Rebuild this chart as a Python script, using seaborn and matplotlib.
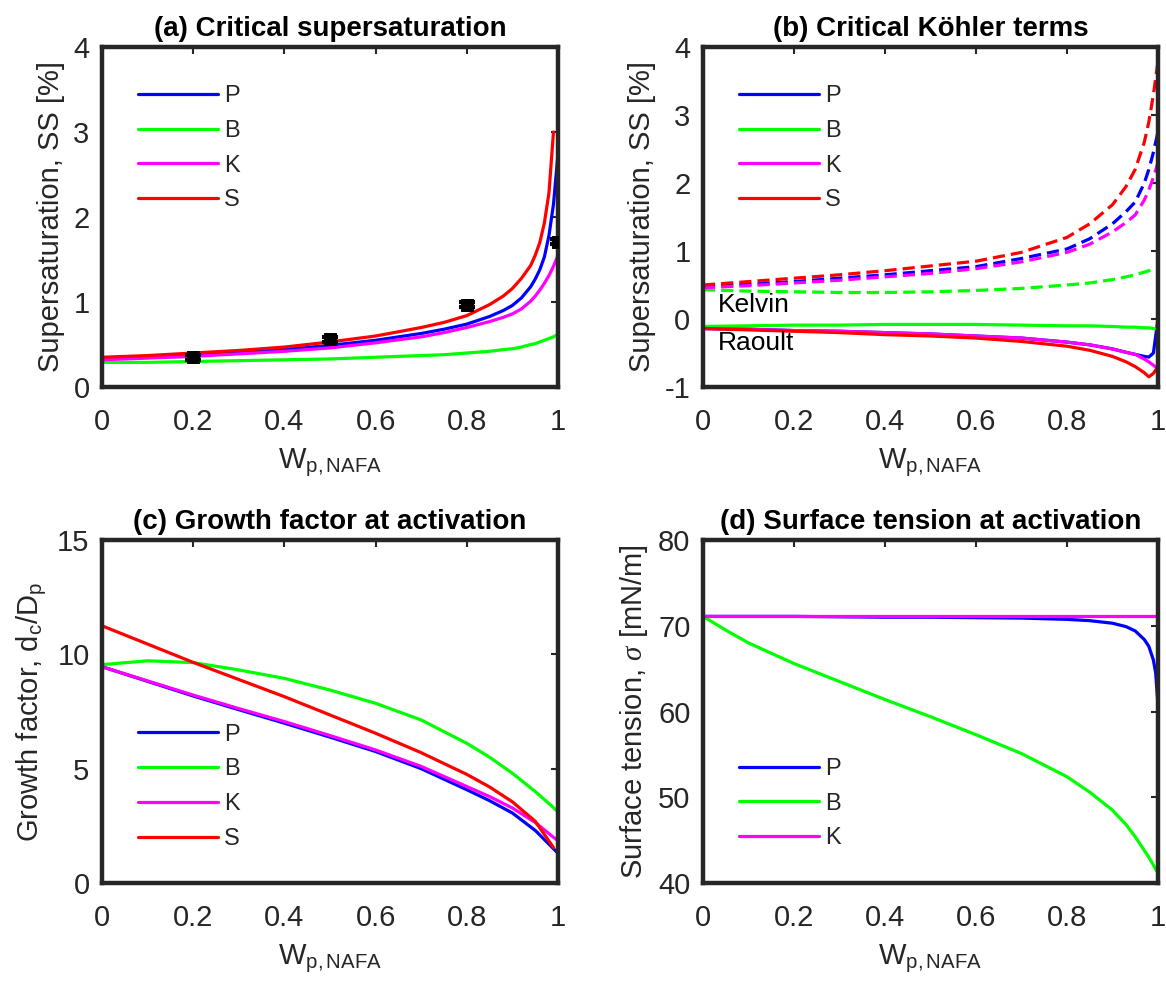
import matplotlib
matplotlib.use("Agg")
import matplotlib.pyplot as plt
import seaborn as sns
import pandas as pd

# ---- data ----
x_ticks = [0, 0.2, 0.4, 0.6, 0.8, 1.0]
x_ticklabels = ["0", "0.2", "0.4", "0.6", "0.8", "1"]

# (a) critical supersaturation [%]
a_x = [0, 0.1, 0.2, 0.3, 0.4, 0.5, 0.6, 0.7, 0.75, 0.8, 0.85, 0.88, 0.9, 0.92, 0.94, 0.95, 0.96, 0.97, 0.98, 0.99, 1.0]
a_P = [0.34, 0.36, 0.38, 0.41, 0.44, 0.49, 0.55, 0.63, 0.68, 0.74, 0.83, 0.90, 0.96, 1.05, 1.18, 1.27, 1.38, 1.53, 1.78, 2.15, 2.75]
a_B = [0.29, 0.29, 0.30, 0.31, 0.32, 0.33, 0.35, 0.37, 0.38, 0.40, 0.42, 0.44, 0.45, 0.47, 0.50, 0.51, 0.53, 0.55, 0.57, 0.59, 0.62]
a_K = [0.32, 0.34, 0.36, 0.39, 0.42, 0.46, 0.52, 0.59, 0.64, 0.70, 0.77, 0.82, 0.86, 0.92, 1.01, 1.07, 1.14, 1.22, 1.31, 1.42, 1.55]
a_S = [0.35, 0.37, 0.40, 0.43, 0.47, 0.53, 0.60, 0.70, 0.76, 0.84, 0.97, 1.07, 1.16, 1.28, 1.43, 1.55, 1.70, 1.93, 2.28, 3.00]
obs_x = [0.2, 0.5, 0.8, 1.0]
obs_y = [0.35, 0.56, 0.97, 1.71]
obs_err = [0.03, 0.03, 0.03, 0.03]

# (b) Kelvin (dashed) and Raoult (solid) terms [%]
b_x = [0, 0.1, 0.2, 0.3, 0.4, 0.5, 0.6, 0.7, 0.8, 0.85, 0.9, 0.93, 0.95, 0.97, 0.98, 0.99, 1.0]
b_kel_P = [0.48, 0.51, 0.55, 0.60, 0.65, 0.71, 0.77, 0.89, 1.03, 1.18, 1.40, 1.58, 1.72, 2.00, 2.20, 2.45, 2.75]
b_kel_B = [0.43, 0.41, 0.40, 0.39, 0.39, 0.40, 0.42, 0.45, 0.50, 0.53, 0.58, 0.62, 0.65, 0.69, 0.71, 0.73, 0.75]
b_kel_K = [0.46, 0.49, 0.53, 0.57, 0.62, 0.67, 0.74, 0.84, 0.98, 1.10, 1.28, 1.42, 1.53, 1.75, 1.90, 2.08, 2.30]
b_kel_S = [0.50, 0.55, 0.60, 0.65, 0.71, 0.78, 0.85, 0.98, 1.20, 1.40, 1.68, 1.95, 2.20, 2.60, 2.90, 3.30, 3.78]
b_rao_P = [-0.14, -0.15, -0.17, -0.18, -0.20, -0.22, -0.25, -0.28, -0.34, -0.38, -0.44, -0.49, -0.52, -0.55, -0.56, -0.50, 0.0]
b_rao_B = [-0.11, -0.10, -0.09, -0.09, -0.08, -0.08, -0.08, -0.09, -0.10, -0.10, -0.11, -0.12, -0.12, -0.13, -0.13, -0.14, -0.15]
b_rao_K = [-0.14, -0.15, -0.17, -0.18, -0.20, -0.22, -0.25, -0.28, -0.34, -0.38, -0.44, -0.49, -0.52, -0.59, -0.63, -0.68, -0.73]
b_rao_S = [-0.14, -0.16, -0.18, -0.20, -0.23, -0.25, -0.28, -0.33, -0.40, -0.46, -0.55, -0.63, -0.70, -0.79, -0.85, -0.80, -0.70]

# (c) growth factor at activation
c_x = [0, 0.1, 0.2, 0.3, 0.4, 0.5, 0.6, 0.7, 0.8, 0.85, 0.9, 0.95, 0.99, 1.0]
c_P = [9.46, 8.82, 8.18, 7.58, 6.99, 6.38, 5.75, 5.00, 4.08, 3.60, 3.06, 2.30, 1.50, 1.30]
c_B = [9.55, 9.72, 9.64, 9.32, 8.95, 8.44, 7.86, 7.13, 6.11, 5.50, 4.80, 4.00, 3.30, 3.10]
c_K = [9.46, 8.84, 8.22, 7.63, 7.06, 6.45, 5.82, 5.10, 4.22, 3.78, 3.28, 2.65, 2.00, 1.85]
c_S = [11.25, 10.45, 9.65, 8.90, 8.15, 7.35, 6.55, 5.70, 4.75, 4.20, 3.55, 2.70, 1.55]

# (d) surface tension at activation [mN/m]
d_x = [0, 0.05, 0.1, 0.2, 0.3, 0.4, 0.5, 0.6, 0.7, 0.8, 0.85, 0.9, 0.93, 0.95, 0.97, 0.98, 0.99, 0.995, 1.0]
d_P = [71.1, 71.1, 71.1, 71.1, 71.05, 71.0, 71.0, 70.95, 70.9, 70.75, 70.6, 70.3, 69.9, 69.4, 68.4, 67.6, 66.0, 64.5, 60.8]
d_B = [71.1, 69.5, 68.0, 65.6, 63.5, 61.4, 59.4, 57.3, 55.1, 52.4, 50.6, 48.5, 46.8, 45.4, 43.8, 43.0, 42.1, 41.6, 41.2]
d_K = [71.1] * len(d_x)

colors = {"P": "#0000ff", "B": "#00ff00", "K": "#ff00ff", "S": "#ff0000"}

sns.set_theme(style="white")
plt.rcParams["font.family"] = ["Liberation Sans", "DejaVu Sans"]
plt.rcParams["mathtext.fontset"] = "custom"
plt.rcParams["mathtext.rm"] = "Liberation Sans"
plt.rcParams["mathtext.it"] = "Liberation Serif:italic"

DARK = "#262626"
LW = 2.3
DASH = (0, (3.8, 1.9))

fig = plt.figure(figsize=(11.66, 9.83), dpi=100)
ax_a = fig.add_axes([0.0875, 0.6063, 0.3911, 0.3459])
ax_b = fig.add_axes([0.6029, 0.6063, 0.3902, 0.3459])
ax_c = fig.add_axes([0.0875, 0.1017, 0.3911, 0.3489])
ax_d = fig.add_axes([0.6029, 0.1017, 0.3902, 0.3489])


def line(ax, x, y, key, label=None, ls="-"):
    df = pd.DataFrame({"x": x[:len(y)], "y": y})
    sns.lineplot(data=df, x="x", y="y", ax=ax, color=colors[key], lw=LW,
                 linestyle=ls, label=label if label else "_nolegend_")


def style(ax, title, ylabel, ylim, yticks, leg_y):
    ax.set_xlim(0, 1)
    ax.set_ylim(*ylim)
    ax.set_xticks(x_ticks)
    ax.set_xticklabels(x_ticklabels)
    ax.set_yticks(yticks)
    ax.set_yticklabels([str(t) for t in yticks])
    ax.set_xlabel(r"W$_{\mathrm{p,NAFA}}$", fontsize=21, color=DARK, labelpad=7)
    ax.set_ylabel(ylabel, fontsize=21, color=DARK, labelpad=6)
    ax.set_title(title, fontsize=20, fontweight="bold", color="black", pad=8)
    ax.tick_params(direction="in", length=5, width=1.5, colors=DARK,
                   labelsize=21, top=True, right=True)
    ax.tick_params(axis="x", pad=15)
    ax.tick_params(axis="y", pad=9)
    for sp in ax.spines.values():
        sp.set_linewidth(3.2)
        sp.set_color(DARK)
        sp.set_visible(True)
    ax.legend(loc="upper left", bbox_to_anchor=(0.079, leg_y), frameon=False,
              fontsize=17, handlelength=3.4, handletextpad=0.25,
              labelspacing=0.54, borderaxespad=0, borderpad=0)


# (a)
line(ax_a, a_x, a_P, "P", "P")
line(ax_a, a_x, a_B, "B", "B")
line(ax_a, a_x, a_K, "K", "K")
line(ax_a, a_x, a_S, "S", "S")
ax_a.errorbar(obs_x, obs_y, yerr=obs_err, fmt="none", ecolor="black",
              elinewidth=3, capsize=5.8, capthick=3, zorder=5)
sns.scatterplot(x=obs_x, y=obs_y, ax=ax_a, marker="s", s=75, color="black",
                edgecolor="black", zorder=6, legend=False)
style(ax_a, "(a) Critical supersaturation", "Supersaturation, SS [%]",
      (0, 4), [0, 1, 2, 3, 4], 0.888)

# (b)
line(ax_b, b_x, b_kel_P, "P", ls=DASH)
line(ax_b, b_x, b_kel_B, "B", ls=DASH)
line(ax_b, b_x, b_kel_K, "K", ls=DASH)
line(ax_b, b_x, b_kel_S, "S", ls=DASH)
line(ax_b, b_x, b_rao_P, "P", "P")
line(ax_b, b_x, b_rao_B, "B", "B")
line(ax_b, b_x, b_rao_K, "K", "K")
line(ax_b, b_x, b_rao_S, "S", "S")
ax_b.text(0.033, 0.2, "Kelvin", fontsize=19, va="center", color="black")
ax_b.text(0.033, -0.35, "Raoult", fontsize=19, va="center", color="black")
style(ax_b, "(b) Critical Köhler terms", "Supersaturation, SS [%]",
      (-1, 4), [-1, 0, 1, 2, 3, 4], 0.888)

# (c)
line(ax_c, c_x, c_P, "P", "P")
line(ax_c, c_x, c_B, "B", "B")
line(ax_c, c_x, c_K, "K", "K")
line(ax_c, c_x, c_S, "S", "S")
style(ax_c, "(c) Growth factor at activation",
      r"Growth factor, d$_{\mathrm{c}}$/D$_{\mathrm{p}}$",
      (0, 15), [0, 5, 10, 15], 0.465)

# (d)
line(ax_d, d_x, d_P, "P", "P")
line(ax_d, d_x, d_B, "B", "B")
line(ax_d, d_x, d_K, "K", "K")
style(ax_d, "(d) Surface tension at activation",
      r"Surface tension, $\sigma$ [mN/m]",
      (40, 80), [40, 50, 60, 70, 80], 0.365)

fig.savefig("out.png", dpi=100, facecolor="white")
